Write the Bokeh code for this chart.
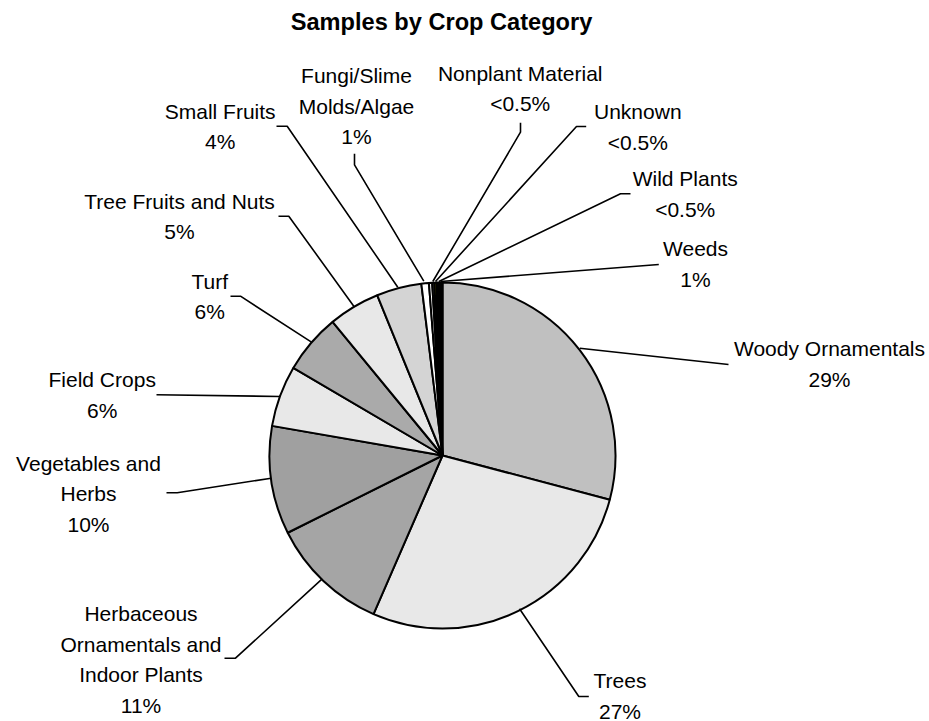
import math

from bokeh.core.properties import value
from bokeh.embed import file_html
from bokeh.models import ColumnDataSource, Range1d
from bokeh.plotting import figure
from bokeh.resources import INLINE

W, H = 929, 721

# ---- data -------------------------------------------------------------
categories = [
    "Woody Ornamentals",
    "Trees",
    "Herbaceous Ornamentals and Indoor Plants",
    "Vegetables and Herbs",
    "Field Crops",
    "Turf",
    "Tree Fruits and Nuts",
    "Small Fruits",
    "Fungi/Slime Molds/Algae",
    "Nonplant Material",
    "Unknown",
    "Wild Plants",
    "Weeds",
]
shares = [29.1, 27.4, 11.1, 10.1, 5.7, 5.6, 4.8, 4.2, 0.7, 0.3, 0.2, 0.2, 0.55]

title_text = "Samples by Crop Category"

# how long names are broken over several lines
wrapped = {
    "Herbaceous Ornamentals and Indoor Plants": ["Herbaceous", "Ornamentals and", "Indoor Plants"],
    "Vegetables and Herbs": ["Vegetables and", "Herbs"],
    "Fungi/Slime Molds/Algae": ["Fungi/Slime", "Molds/Algae"],
}

# ---- styles / layout (screen pixels, y measured downwards) ---------------
colors = ["#C0C0C0", "#E8E8E8", "#A5A5A5", "#A0A0A0", "#E8E8E8", "#AAAAAA",
          "#E8E8E8", "#D4D4D4", "#FFFFFF", "#FFFFFF", "#FFFFFF", "#FFFF00", "#000000"]

PIE_X, PIE_Y, PIE_R = 442, 455, 173
LINE_GAP = 30.5
FONT = "Liberation Sans"

# label centre x, first line centre y, leader line points
label_layout = [
    (829.0, 348.3, [(728.0, 364.0), (579.3, 347.7)]),
    (619.5, 680.0, [(588.3, 696.0), (578.3, 696.0), (519.0, 608.3)]),
    (140.5, 613.3, [(224.0, 657.7), (235.0, 657.7), (321.7, 578.3)]),
    (88.0, 462.7, [(166.0, 492.3), (176.7, 492.3), (270.7, 477.7)]),
    (101.7, 379.3, [(156.0, 394.3), (279.3, 396.0)]),
    (209.2, 280.7, [(230.0, 295.7), (240.0, 295.7), (311.0, 341.7)]),
    (179.0, 200.7, [(278.0, 215.7), (288.3, 215.7), (353.3, 305.7)]),
    (219.7, 110.7, [(276.0, 125.7), (286.7, 125.7), (397.3, 286.7)]),
    (356.0, 75.0, [(354.0, 153.3), (354.0, 164.3), (423.3, 280.7)]),
    (519.7, 72.7, [(520.0, 122.3), (520.0, 131.7), (432.3, 281.0)]),
    (637.3, 111.0, [(585.7, 126.0), (576.0, 126.0), (435.0, 281.0)]),
    (684.7, 178.3, [(630.0, 193.3), (620.0, 193.3), (438.3, 281.0)]),
    (695.0, 248.3, [(658.3, 264.0), (440.0, 281.0)]),
]


def fy(y_px):
    """Screen y (downwards) to data y (upwards)."""
    return H - y_px


def pct_text(v):
    return "<0.5%" if v < 0.5 else f"{int(v + 0.5)}%"


# ---- wedges: clockwise from 12 o'clock ----------------------------------
total = sum(shares)
starts, ends = [], []
cum = 0.0
for v in shares:
    a0 = math.pi / 2 - 2 * math.pi * cum / total
    cum += v
    a1 = math.pi / 2 - 2 * math.pi * cum / total
    starts.append(a1)
    ends.append(a0)

wedges = ColumnDataSource(dict(start=starts, end=ends, color=colors, name=categories, share=shares))

p = figure(width=W, height=H, x_range=Range1d(0, W), y_range=Range1d(0, H),
           toolbar_location=None, output_backend="svg", min_border=0,
           x_axis_location=None, y_axis_location=None)
p.grid.visible = False
p.outline_line_color = None
p.background_fill_color = "white"
p.border_fill_color = "white"

p.wedge(x=PIE_X, y=fy(PIE_Y), radius=PIE_R, start_angle="start", end_angle="end",
        fill_color="color", line_color="black", line_width=2, source=wedges)

# ---- leader lines -------------------------------------------------------
xs = [[pt[0] for pt in lay[2]] for lay in label_layout]
ys = [[fy(pt[1]) for pt in lay[2]] for lay in label_layout]
p.multi_line(xs=xs, ys=ys, line_color="black", line_width=1.6)

# ---- labels -------------------------------------------------------------
tx, ty, tt = [], [], []
for name, v, (cx, y0, _) in zip(categories, shares, label_layout):
    lines = wrapped.get(name, [name]) + [pct_text(v)]
    for i, line in enumerate(lines):
        tx.append(cx)
        ty.append(fy(y0 + i * LINE_GAP))
        tt.append(line)

p.text(x=tx, y=ty, text=tt, text_align="center", text_baseline="middle",
       text_font=value(FONT), text_font_size="21px", text_color="black")

p.text(x=[441], y=[fy(21.5)], text=[title_text], text_align="center", text_baseline="middle",
       text_font=value(FONT), text_font_size="23.6px", text_font_style="bold", text_color="black")

open("out.html", "w").write(file_html(p, INLINE))
